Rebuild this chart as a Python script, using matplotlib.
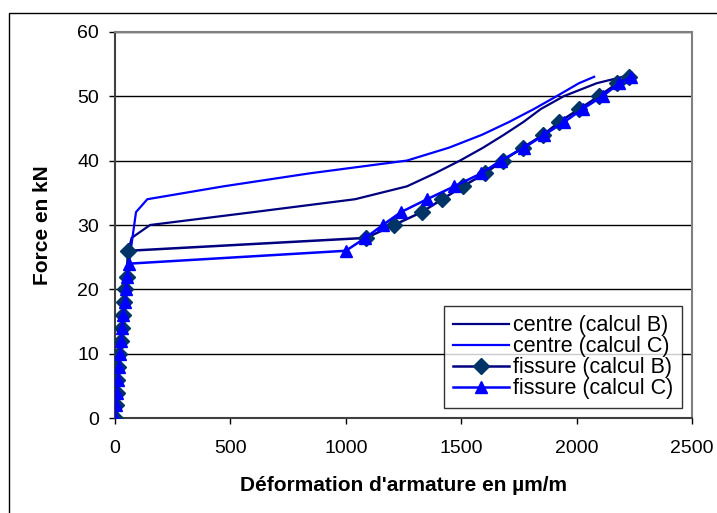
"""Force vs strain in reinforcement: centre and crack, calculations B and C."""

import matplotlib
matplotlib.use("Agg")
import matplotlib.pyplot as plt
import matplotlib.patches as mpatches

plt.rcParams.update({
    'font.family': ['Liberation Sans', 'DejaVu Sans'],
    'font.size': 10,
})

# centre (calcul B)
centre_b_x = [0, 3, 7, 10, 14, 19, 25, 29, 33, 39, 43, 50, 58, 72, 152, 600, 1040,
              1265, 1385, 1495, 1595, 1685, 1770, 1845, 1945, 2087, 2200]
centre_b_y = [0, 2, 4, 6, 8, 10, 12, 14, 16, 18, 20, 22, 26, 28, 30, 32, 34,
              36, 38, 40, 42, 44, 46, 48, 50, 52, 53]

# centre (calcul C)
centre_c_x = [0, 4, 8, 12, 16, 21, 27, 31, 36, 42, 47, 54, 60, 91, 140, 470, 840,
              1265, 1447, 1590, 1708, 1815, 1914, 2010, 2076]
centre_c_y = [0, 2, 4, 6, 8, 10, 12, 14, 16, 18, 20, 22, 24, 32, 34, 36, 38,
              40, 42, 44, 46, 48, 50, 52, 53]

# fissure (calcul B)
fiss_b_x = [0, 3, 7, 10, 14, 19, 25, 29, 33, 39, 43, 50, 58, 1088, 1209, 1329,
            1418, 1507, 1603, 1680, 1766, 1856, 1925, 2012, 2097, 2177, 2225]
fiss_b_y = [0, 2, 4, 6, 8, 10, 12, 14, 16, 18, 20, 22, 26, 28, 30, 32,
            34, 36, 38, 40, 42, 44, 46, 48, 50, 52, 53]

# fissure (calcul C)
fiss_c_x = [0, 4, 8, 12, 16, 21, 27, 31, 36, 42, 47, 54, 60, 1000, 1085, 1160,
            1239, 1352, 1470, 1586, 1672, 1773, 1860, 1947, 2026, 2113, 2185, 2236]
fiss_c_y = [0, 2, 4, 6, 8, 10, 12, 14, 16, 18, 20, 22, 24, 26, 28, 30,
            32, 34, 36, 38, 40, 42, 44, 46, 48, 50, 52, 53]

fig = plt.figure(figsize=(7.17, 5.13), dpi=100)
ax = fig.add_axes([0.1604, 0.1846, 0.8047, 0.7536])

# outer chart frame (only left and top edges are inside the picture)
fig.patches.append(mpatches.Rectangle((9 / 717, -0.05), 1.2, 1 - 13 / 513 + 0.05,
                                      transform=fig.transFigure, fill=False,
                                      edgecolor='black', linewidth=1.0))

ax.plot(centre_b_x, centre_b_y, color='#000080', linewidth=1.6,
        label='centre (calcul B)', zorder=3)
ax.plot(centre_c_x, centre_c_y, color='#0000FF', linewidth=1.6,
        label='centre (calcul C)', zorder=3)
ax.plot(fiss_b_x, fiss_b_y, color='#000080', linewidth=1.8, marker='D',
        markersize=8.5, markerfacecolor='#003366', markeredgecolor='#003366',
        label='fissure (calcul B)', zorder=4)
ax.plot(fiss_c_x, fiss_c_y, color='#0000FF', linewidth=1.8, marker='^',
        markersize=9, markerfacecolor='#0000FF', markeredgecolor='#0000FF',
        label='fissure (calcul C)', zorder=5)

ax.set_xlim(0, 2500)
ax.set_ylim(0, 60)
ax.set_xticks(range(0, 2501, 500))
ax.set_yticks(range(0, 61, 10))
ax.yaxis.grid(True, color='black', linewidth=1.0)
ax.set_axisbelow(True)
ax.tick_params(direction='out', length=4.5, width=1, colors='black',
               labelsize=14)
ax.tick_params(axis='x', pad=11)
ax.tick_params(axis='y', pad=7)

for side in ['top', 'right']:
    ax.spines[side].set_color('#808080')
    ax.spines[side].set_linewidth(1.5)
for side in ['left', 'bottom']:
    ax.spines[side].set_color('#404040')
    ax.spines[side].set_linewidth(1.5)

ax.set_xlabel("Déformation d'armature en µm/m", fontsize=15, fontweight='bold',
              labelpad=14)
ax.set_ylabel('Force en kN', fontsize=15, fontweight='bold', labelpad=18)

leg = ax.legend(loc='lower right', bbox_to_anchor=(0.983, 0.026), fontsize=15.5,
                frameon=True, fancybox=False, edgecolor='black',
                borderpad=0.42, labelspacing=0.0, handlelength=2.6,
                handletextpad=0.2, borderaxespad=0)
leg.get_frame().set_linewidth(1.0)

fig.savefig('out.png', dpi=100)
